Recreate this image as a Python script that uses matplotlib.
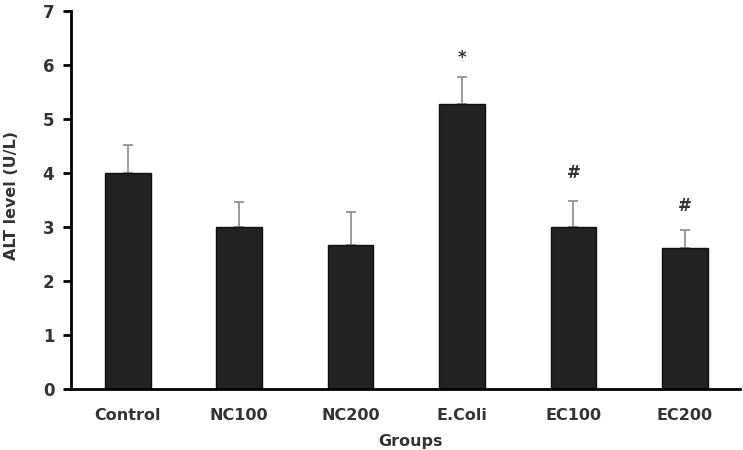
import matplotlib.pyplot as plt
import numpy as np

# 组别与数值
groups = ["Control", "NC100", "NC200", "E.Coli", "EC100", "EC200"]
alt_mean = [4.00, 3.00, 2.67, 5.27, 3.00, 2.62]
alt_err = [0.52, 0.47, 0.61, 0.51, 0.49, 0.32]
marks = ["", "", "", "*", "#", "#"]
mark_y = [0, 0, 0, 6.12, 4.0, 3.38]

plt.rcParams["font.family"] = ["DejaVu Sans"]

fig = plt.figure(figsize=(7.43, 4.5), dpi=100)
ax = fig.add_axes([0.0956, 0.1356, 0.901, 0.84])

x = np.arange(len(groups))
ax.bar(x, alt_mean, width=0.41, color="#222222", edgecolor="#111111", linewidth=1, zorder=2)
# 只画向上的误差线
ax.errorbar(x, alt_mean, yerr=[np.zeros(len(alt_err)), alt_err], fmt="none",
            ecolor="#8a8a8a", elinewidth=1.2, capsize=3.8, capthick=1.2, zorder=1)

for i, (m, y) in enumerate(zip(marks, mark_y)):
    if m:
        ax.text(i, y, m, ha="center", va="center", fontsize=12, fontweight="bold", color="#333333")

ax.set_xlim(-0.51, 5.5)
ax.set_ylim(0, 7)
ax.set_yticks(range(0, 8))
ax.set_xticks(x)
ax.set_xticklabels(groups)

for side in ["top", "right"]:
    ax.spines[side].set_visible(False)
ax.spines["left"].set_linewidth(2)
ax.spines["bottom"].set_linewidth(2)
ax.tick_params(axis="y", direction="out", length=6, width=2, labelsize=12, labelcolor="#333333", pad=6)
ax.tick_params(axis="x", length=0, labelsize=11.5, labelcolor="#333333", pad=14)
for lab in ax.get_xticklabels() + ax.get_yticklabels():
    lab.set_fontweight("bold")

fig.text(0.016, 0.565, "ALT level (U/L)", rotation=90, ha="center", va="center",
         fontsize=11.5, fontweight="bold", color="#333333")
fig.text(0.552, 0.003, "Groups", ha="center", va="bottom", fontsize=11.5, fontweight="bold", color="#333333")

plt.savefig("out.png", dpi=100)
